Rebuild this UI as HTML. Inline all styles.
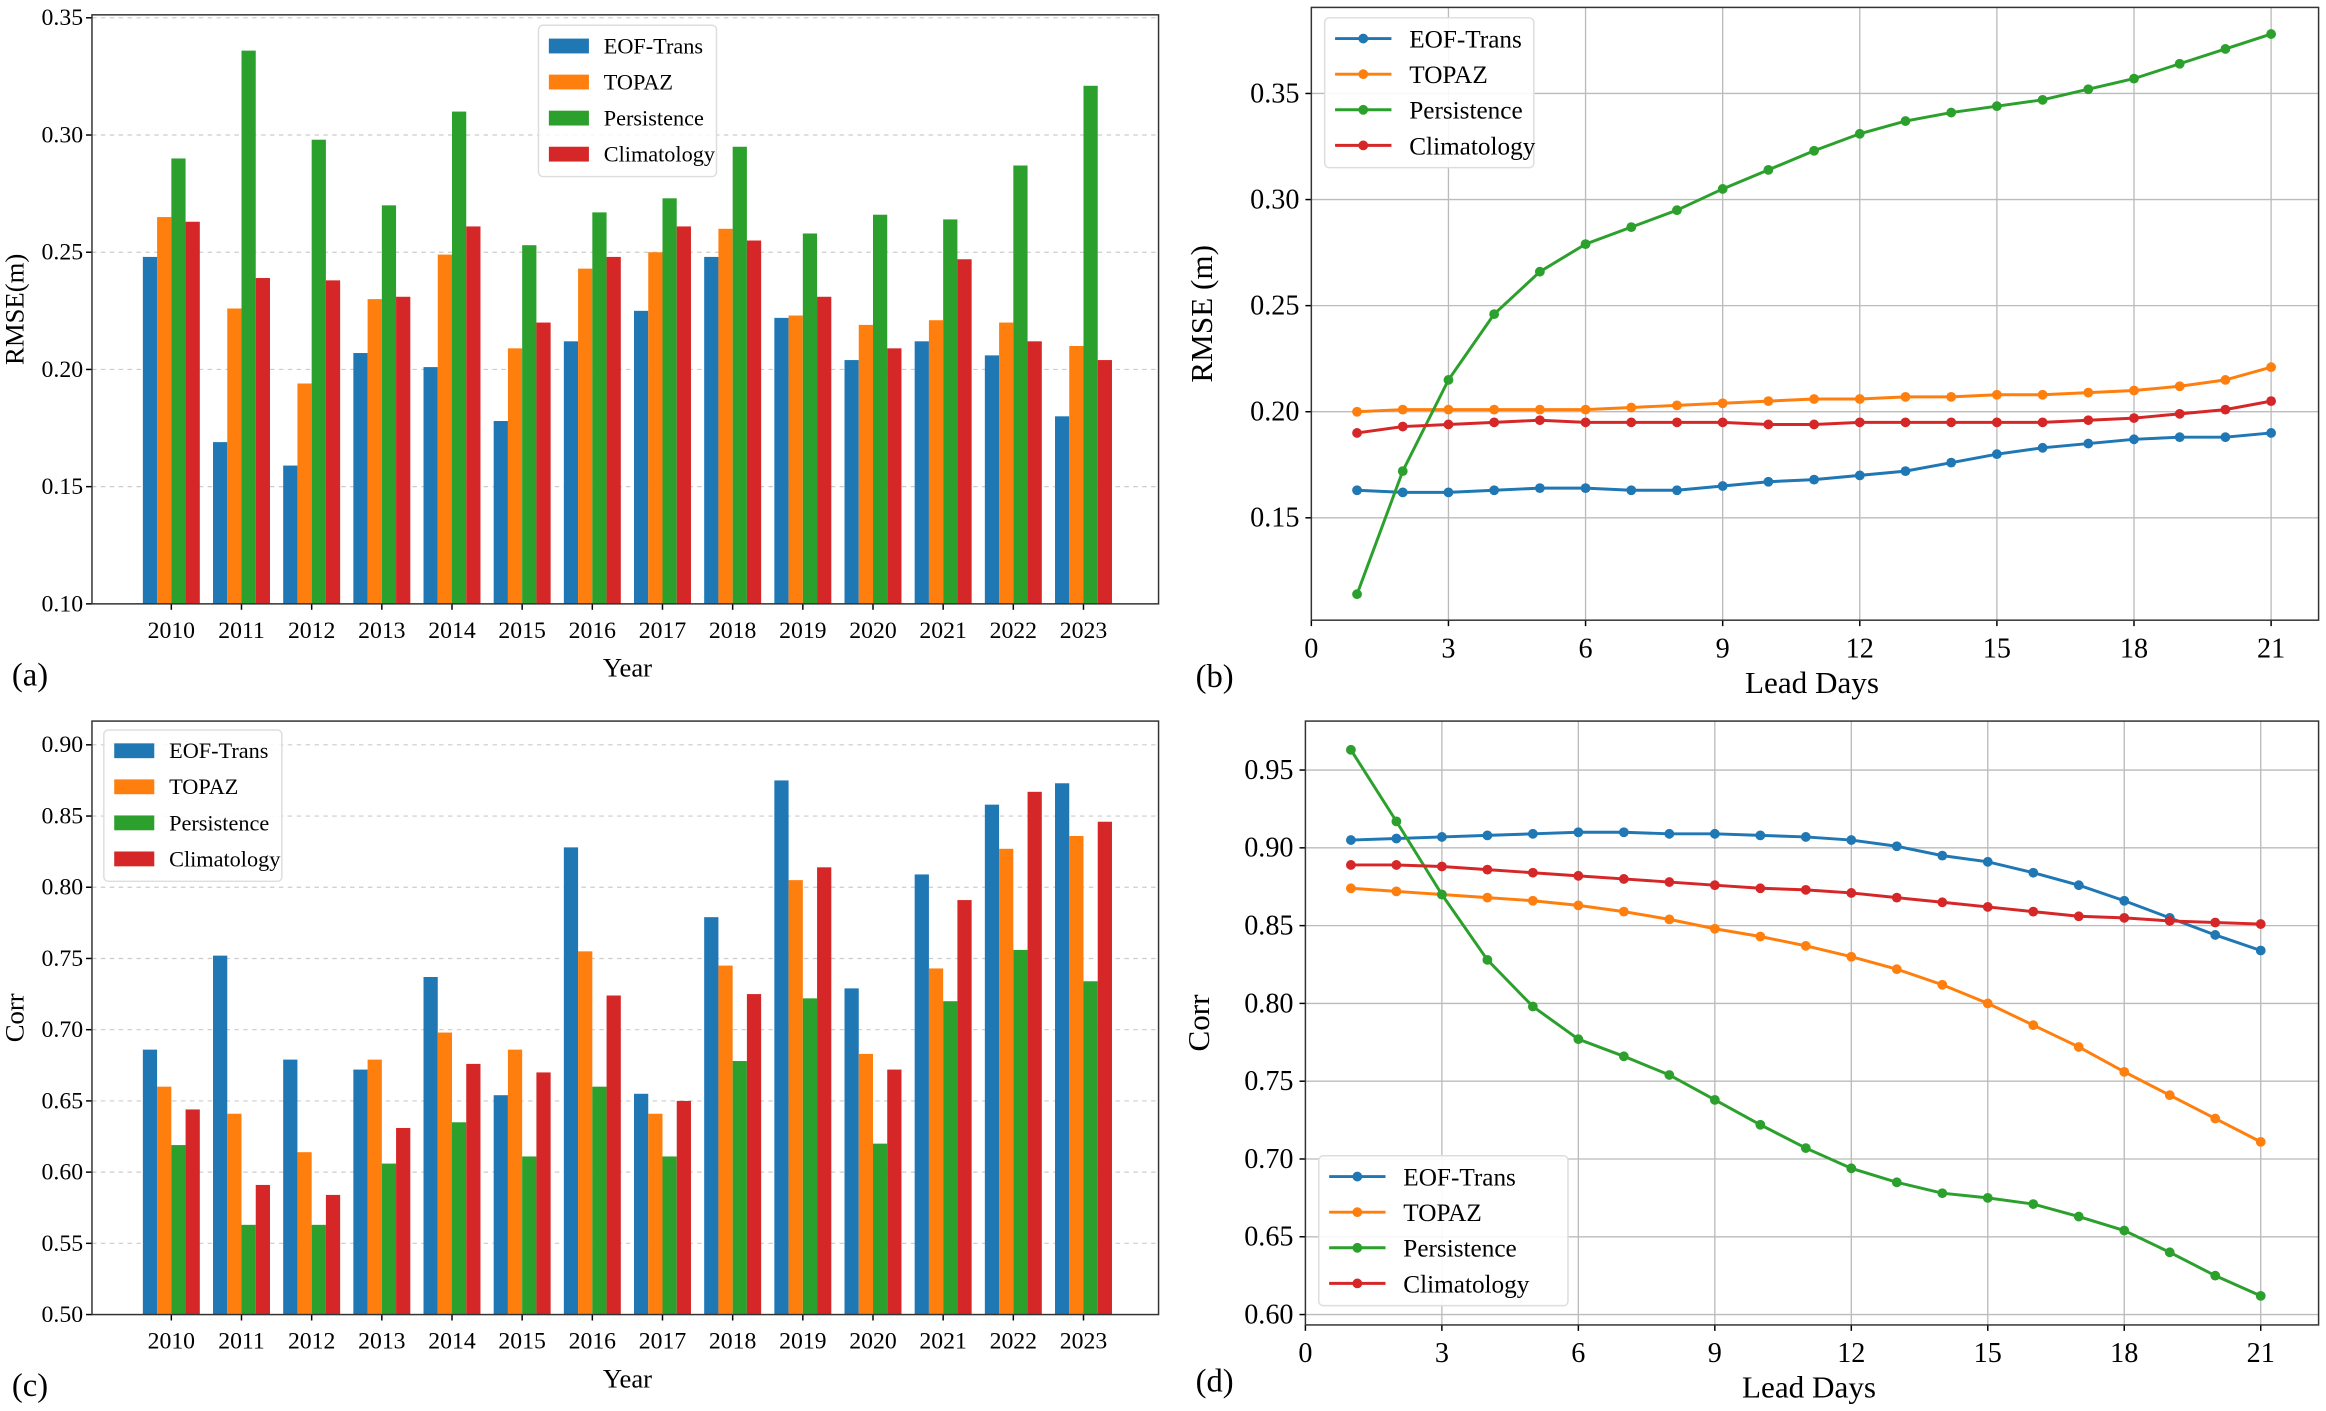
<!DOCTYPE html>
<html><head><meta charset="utf-8"><style>
html,body{margin:0;padding:0;background:#fff;}
svg{display:block;font-family:"Liberation Serif",serif;}
</style></head><body>
<svg id="fig" width="2326" height="1411" viewBox="0 0 1568 951" preserveAspectRatio="none" xmlns="http://www.w3.org/2000/svg"></svg>
<script>
const years = ["2010","2011","2012","2013","2014","2015","2016","2017","2018","2019","2020","2021","2022","2023"];
const seriesNames = ["EOF-Trans","TOPAZ","Persistence","Climatology"];
const colors = ["#1f77b4","#ff7f0e","#2ca02c","#d62728"];
const rmseEOF = [.248,.169,.159,.207,.201,.178,.212,.225,.248,.222,.204,.212,.206,.180];
const rmseTOPAZ = [.265,.226,.194,.230,.249,.209,.243,.250,.260,.223,.219,.221,.220,.210];
const rmsePers = [.290,.336,.298,.270,.310,.253,.267,.273,.295,.258,.266,.264,.287,.321];
const rmseClim = [.263,.239,.238,.231,.261,.220,.248,.261,.255,.231,.209,.247,.212,.204];
const corrEOF = [.686,.752,.679,.672,.737,.654,.828,.655,.779,.875,.729,.809,.858,.873];
const corrTOPAZ = [.660,.641,.614,.679,.698,.686,.755,.641,.745,.805,.683,.743,.827,.836];
const corrPers = [.619,.563,.563,.606,.635,.611,.660,.611,.678,.722,.620,.720,.756,.734];
const corrClim = [.644,.591,.584,.631,.676,.670,.724,.650,.725,.814,.672,.791,.867,.846];
const leadDays = [1,2,3,4,5,6,7,8,9,10,11,12,13,14,15,16,17,18,19,20,21];
const leadRmseEOF = [.163,.162,.162,.163,.164,.164,.163,.163,.165,.167,.168,.170,.172,.176,.180,.183,.185,.187,.188,.188,.190];
const leadRmseTOPAZ = [.200,.201,.201,.201,.201,.201,.202,.203,.204,.205,.206,.206,.207,.207,.208,.208,.209,.210,.212,.215,.221];
const leadRmsePers = [.114,.172,.215,.246,.266,.279,.287,.295,.305,.314,.323,.331,.337,.341,.344,.347,.352,.357,.364,.371,.378];
const leadRmseClim = [.190,.193,.194,.195,.196,.195,.195,.195,.195,.194,.194,.195,.195,.195,.195,.195,.196,.197,.199,.201,.205];
const leadCorrEOF = [.905,.906,.907,.908,.909,.910,.910,.909,.909,.908,.907,.905,.901,.895,.891,.884,.876,.866,.855,.844,.834];
const leadCorrTOPAZ = [.874,.872,.870,.868,.866,.863,.859,.854,.848,.843,.837,.830,.822,.812,.800,.786,.772,.756,.741,.726,.711];
const leadCorrPers = [.963,.917,.870,.828,.798,.777,.766,.754,.738,.722,.707,.694,.685,.678,.675,.671,.663,.654,.640,.625,.612];
const leadCorrClim = [.889,.889,.888,.886,.884,.882,.880,.878,.876,.874,.873,.871,.868,.865,.862,.859,.856,.855,.853,.852,.851];
const rmseTicks = ["0.10","0.15","0.20","0.25","0.30","0.35"];
const corrTicks = ["0.50","0.55","0.60","0.65","0.70","0.75","0.80","0.85","0.90"];
const leadRmseTicks = ["0.15","0.20","0.25","0.30","0.35"];
const leadCorrTicks = ["0.60","0.65","0.70","0.75","0.80","0.85","0.90","0.95"];
const dayTicks = [0,3,6,9,12,15,18,21];

const NS="http://www.w3.org/2000/svg";
const svg=document.getElementById("fig");
function mk(tag,attrs,parent,txt){const e=document.createElementNS(NS,tag);for(const k in attrs)e.setAttribute(k,attrs[k]);if(txt!==undefined)e.textContent=txt;(parent||svg).appendChild(e);return e;}
function lin(d0,d1,p0,p1){return v=>p0+(v-d0)/(d1-d0)*(p1-p0);}

function barPanel(id,box,y,ticks,data,legBox,ylabel,letter){
  const g=mk("g",{});
  
  
  ticks.forEach(t=>{const yy=y(+t);
    const gl=mk("line",{x1:box.l,x2:box.r,y1:yy,y2:yy,stroke:"#ccc","stroke-width":0.8,"stroke-dasharray":"3,3"},g);
    
    mk("line",{x1:box.l-4,x2:box.l,y1:yy,y2:yy,stroke:"#000"},g);
    const tl=mk("text",{x:box.l-6,y:yy+5,"text-anchor":"end","font-size":16},g,t);
    });
  const step=(box.r-box.l-38)/ (years.length-0.17);
  const cx=i=>115.5+i*47.3-(box.l-62);
  const bw=9.6;
  data.forEach((arr,s)=>arr.forEach((v,i)=>{
    const x=cx(i)-2*bw+s*bw;const yt=y(v);
    const r=mk("rect",{x:x,y:yt,width:bw,height:box.b-yt,fill:colors[s]},g);
    
    }));
  years.forEach((yr,i)=>{mk("line",{x1:cx(i),x2:cx(i),y1:box.b,y2:box.b+4,stroke:"#000"},g);
    const t=mk("text",{x:cx(i),y:box.b+23,"text-anchor":"middle","font-size":16},g,yr);
    });
  const fr=mk("rect",{x:box.l,y:box.t,width:box.r-box.l,height:box.b-box.t,fill:"none",stroke:"#333","stroke-width":1},g);
  
  const yl=mk("text",{x:0,y:0,"text-anchor":"middle","font-size":18,transform:`translate(${box.l-46},${(box.t+box.b)/2}) rotate(-90)`},g,ylabel);
  
  const xl=mk("text",{x:423,y:box.b+49,"text-anchor":"middle","font-size":18},g,"Year");
  
  const lt=mk("text",{x:8,y:box.b+55,"font-size":22},g,letter);
  
  const lg=mk("g",{},g);
  
  mk("rect",{x:legBox.x,y:legBox.y,width:120,height:102,rx:3,fill:"#fff","fill-opacity":0.85,stroke:"#ddd"},lg);
  seriesNames.forEach((n,s)=>{const yy=legBox.y+14+s*24.3;
    mk("rect",{x:legBox.x+7,y:yy-5,width:27,height:10,fill:colors[s]},lg);
    const t=mk("text",{x:legBox.x+44,y:yy+5,"font-size":15},lg,n);
    });
}

function linePanel(id,box,x,y,ticks,data,legBox,ylabel,letter,ylx,xlabY){
  const g=mk("g",{});
  
  
  ticks.forEach(t=>{const yy=y(+t);
    const gl=mk("line",{x1:box.l,x2:box.r,y1:yy,y2:yy,stroke:"#bbb","stroke-width":0.9},g);
    
    mk("line",{x1:box.l-4,x2:box.l,y1:yy,y2:yy,stroke:"#000"},g);
    const tl=mk("text",{x:box.l-8,y:yy+6,"text-anchor":"end","font-size":19},g,t);
    });
  dayTicks.forEach(d=>{const xx=x(d);
    if(d>0){const gl=mk("line",{x1:xx,x2:xx,y1:box.t,y2:box.b,stroke:"#bbb","stroke-width":0.9},g);
      }
    mk("line",{x1:xx,x2:xx,y1:box.b,y2:box.b+4,stroke:"#000"},g);
    const tl=mk("text",{x:xx,y:box.b+25,"text-anchor":"middle","font-size":19},g,String(d));
    });
  data.forEach((arr,s)=>{
    const pts=arr.map((v,i)=>x(leadDays[i])+","+y(v)).join(" ");
    const pl=mk("polyline",{points:pts,fill:"none",stroke:colors[s],"stroke-width":2},g);
    
    
    arr.forEach((v,i)=>{const c=mk("circle",{cx:x(leadDays[i]),cy:y(v),r:3.3,fill:colors[s]},g);
      
      });});
  const fr=mk("rect",{x:box.l,y:box.t,width:box.r-box.l,height:box.b-box.t,fill:"none",stroke:"#333","stroke-width":1},g);
  
  const yl=mk("text",{x:0,y:0,"text-anchor":"middle","font-size":21,transform:`translate(${ylx},${(box.t+box.b)/2}) rotate(-90)`},g,ylabel);
  
  const xl=mk("text",{x:(box.l+box.r)/2-2,y:xlabY,"text-anchor":"middle","font-size":21},g,"Lead Days");
  
  const lt=mk("text",{x:806,y:xlabY-4,"font-size":22},g,letter);
  
  const lg=mk("g",{},g);
  
  mk("rect",{x:legBox.x,y:legBox.y,width:legBox.w,height:101,rx:3,fill:"#fff","fill-opacity":0.9,stroke:"#ddd"},lg);
  seriesNames.forEach((n,s)=>{const yy=legBox.y+14+s*24;
    mk("line",{x1:legBox.x+7,x2:legBox.x+45,y1:yy,y2:yy,stroke:colors[s],"stroke-width":2},lg);
    mk("circle",{cx:legBox.x+26,cy:yy,r:3.3,fill:colors[s]},lg);
    const t=mk("text",{x:legBox.x+57,y:yy+6,"font-size":17},lg,n);
    });
}

const boxA={l:62,r:781,t:10,b:407};
barPanel("rmse-bar",boxA,lin(0.10,0.35,407,12),rmseTicks,[rmseEOF,rmseTOPAZ,rmsePers,rmseClim],{x:363,y:17},"RMSE(m)","(a)");
const boxC={l:62,r:781,t:486,b:886};
barPanel("corr-bar",boxC,lin(0.50,0.90,886,502),corrTicks,[corrEOF,corrTOPAZ,corrPers,corrClim],{x:70,y:492},"Corr","(c)");
const boxB={l:884,r:1563,t:5,b:418};
linePanel("rmse-line",boxB,lin(0,21,884,1531),lin(0.15,0.35,349,63),leadRmseTicks,[leadRmseEOF,leadRmseTOPAZ,leadRmsePers,leadRmseClim],{x:893,y:12,w:141},"RMSE (m)","(b)",817,467);
const boxD={l:880,r:1563,t:486,b:893};
linePanel("corr-line",boxD,lin(0,21,880,1524),lin(0.60,0.95,886,519),leadCorrTicks,[leadCorrEOF,leadCorrTOPAZ,leadCorrPers,leadCorrClim],{x:889,y:779,w:168},"Corr","(d)",815,942);
</script>
</body></html>
